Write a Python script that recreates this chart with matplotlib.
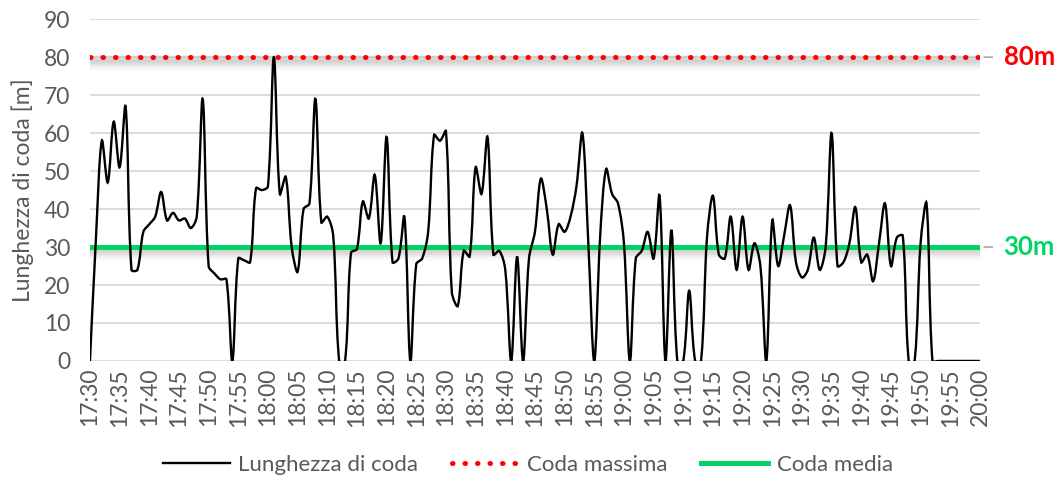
import numpy as np
import matplotlib
matplotlib.use('Agg')
import matplotlib.pyplot as plt
from matplotlib.path import Path
from matplotlib.patches import PathPatch
from matplotlib.lines import Line2D
from matplotlib.transforms import offset_copy

plt.rcParams['font.family'] = ['Lato', 'DejaVu Sans']

# queue length per minute, 17:30 -> 20:00
coda = [0, 32, 58, 47, 63, 51, 67, 24, 24, 34,
        36, 38, 44.5, 37, 39, 37, 37.5, 35, 38, 69,
        25, 23, 21.5, 21.5, 0, 27, 26.5, 26, 45.5, 45,
        46, 80, 44, 48.5, 30, 23.5, 40, 41.5, 69, 36.5,
        38, 33, 0, 0, 28.5, 29.5, 42, 37.5, 49, 31,
        59, 26, 27, 38, 0, 25.5, 27, 34, 59.5, 58,
        60.5, 18, 14.5, 29, 27.5, 51, 44, 59, 28, 29,
        24, 0, 27.5, 0, 27, 34, 48, 40, 28, 36,
        34, 38, 46, 60, 31, 0, 33, 50.5, 44, 41.5,
        31, 0, 27, 29, 34, 27, 43.5, 0, 34.5, 0,
        0, 18.5, 0, 0, 32.5, 43.5, 28, 27, 38, 24,
        38, 24, 31, 25, 0, 37, 25, 33, 41, 26,
        22, 24, 32.5, 24, 30, 60, 25, 26, 31, 40.5,
        26, 28, 21, 31, 41.5, 25, 32.5, 33, 0, 0,
        31, 41.5, 0, 0, 0, 0, 0, 0, 0, 0, 0]
coda_massima = 80
coda_media = 30
orari = ['17:30', '17:35', '17:40', '17:45', '17:50', '17:55', '18:00', '18:05',
         '18:10', '18:15', '18:20', '18:25', '18:30', '18:35', '18:40', '18:45',
         '18:50', '18:55', '19:00', '19:05', '19:10', '19:15', '19:20', '19:25',
         '19:30', '19:35', '19:40', '19:45', '19:50', '19:55', '20:00']

minuti = np.arange(len(coda))
y = np.array(coda, dtype=float)

grey = '#595959'
red = '#ff0000'
green = '#00d563'
fs = 16.5

fig = plt.figure(figsize=(10.62, 4.8), dpi=100)
ax = fig.add_axes([0.0847, 0.248, 0.838, 0.712])
ax.set_xlim(0, 150)
ax.set_ylim(0, 90)

# smoothed line like Excel: bezier, tangents scaled by neighbour distances on screen
p = np.column_stack([minuti, y])
s = ax.transData.transform(p)
verts = [p[0]]
codes = [Path.MOVETO]
t = 1 / 6
for i in range(len(p) - 1):
    a = max(i - 1, 0)
    b = min(i + 2, len(p) - 1)
    d0 = np.hypot(*(s[i] - s[a]))
    d1 = np.hypot(*(s[i + 1] - s[i]))
    d2 = np.hypot(*(s[b] - s[i + 1]))
    f1 = 2 * t * d1 / (d0 + d1) if d0 > 0 else t
    f2 = 2 * t * d1 / (d1 + d2) if d2 > 0 else t
    c1 = p[i] + (p[i + 1] - p[a]) * f1
    c2 = p[i + 1] - (p[b] - p[i]) * f2
    verts += [c1, c2, p[i + 1]]
    codes += [Path.CURVE4] * 3
ax.add_patch(PathPatch(Path(verts, codes), facecolor='none', edgecolor='black',
                       lw=1.7, zorder=4))

# shadows below the reference lines
for k in range(1, 10):
    tr = offset_copy(ax.transData, fig=fig, x=0, y=-k * 1.2, units='dots')
    for v in (coda_massima, coda_media):
        ax.plot([0, 150.7], [v, v], color='black', alpha=0.055 * (1 - k / 11),
                lw=4, transform=tr, zorder=2, solid_capstyle='butt')

ax.plot([0, 150.7], [coda_massima] * 2, color=red, lw=3.6,
        linestyle=(0, (0.1, 2.4)), dash_capstyle='round', zorder=3)
ax.plot([-0.3, 150.4], [coda_media] * 2, color=green, lw=3.6,
        solid_capstyle='butt', zorder=3)

for v, c in ((coda_massima, red), (coda_media, green)):
    ax.annotate(f'{v}m', xy=(150.7, v), xytext=(14, 0), textcoords='offset points',
                va='center', ha='left', color=c, fontsize=18.5, fontweight='bold',
                annotation_clip=False,
                arrowprops=dict(arrowstyle='-', color='#a6a6a6', lw=1.2,
                                shrinkA=6, shrinkB=0))

ax.set_yticks(range(0, 91, 10))
ax.set_xticks(range(0, 151, 5))
ax.set_xticklabels(orari, rotation=90)
ax.grid(axis='y', color='#d9d9d9', lw=1.3)
ax.set_axisbelow(True)
for sp in ax.spines.values():
    sp.set_visible(False)
ax.tick_params(axis='y', length=0, pad=14, labelsize=fs, labelcolor=grey)
ax.tick_params(axis='x', length=0, pad=5, labelsize=fs, labelcolor=grey)
ax.set_ylabel('Lunghezza di coda [m]', fontsize=fs, color=grey, labelpad=7)

handles = [Line2D([], [], color='black', lw=1.7),
           Line2D([], [], color=red, lw=3.6, linestyle=(0, (0.1, 2.4)),
                  dash_capstyle='round'),
           Line2D([], [], color=green, lw=3.6)]
fig.legend(handles, ['Lunghezza di coda', 'Coda massima', 'Coda media'],
           loc='center', bbox_to_anchor=(0.497, 0.031), ncol=3, frameon=False,
           fontsize=16, labelcolor=grey, handlelength=3.0, handletextpad=0.4,
           columnspacing=1.5)

fig.savefig('out.png', dpi=100)
